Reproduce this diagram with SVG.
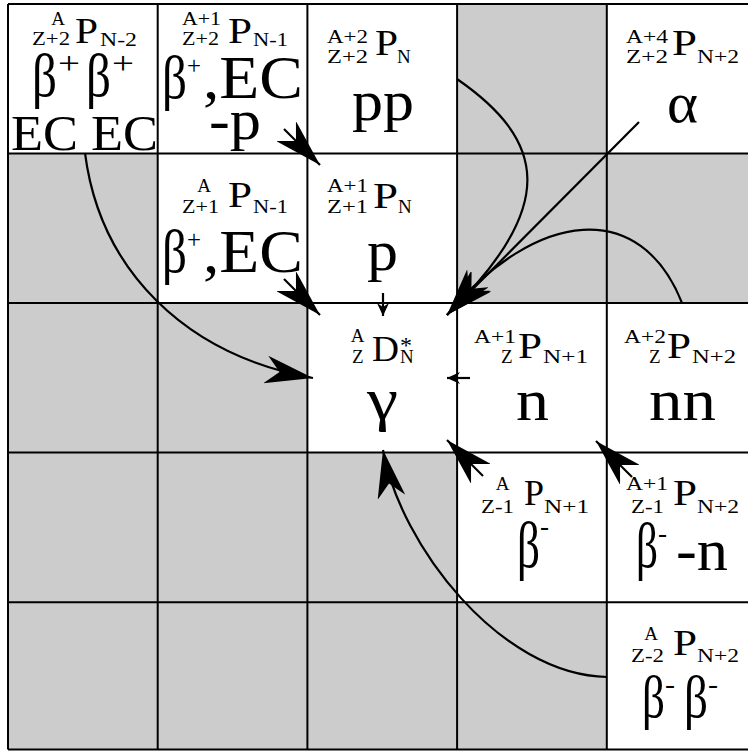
<svg xmlns="http://www.w3.org/2000/svg" width="748" height="751" viewBox="0 0 748 751" font-family="'Liberation Serif', 'Times New Roman', serif">
<style>
text { font-family: 'Liberation Serif', 'Times New Roman', serif; fill: #000; }
.s { font-size: 19px; }
.m { font-size: 35px; }
.g { fill: #cccccc; }
.grid { stroke: #000; stroke-width: 2; fill: none; }
.conn { stroke: #000; stroke-width: 2.2; fill: none; }
.big { marker-end: url(#ah); }
.sm { marker-end: url(#ahs); }
</style>
<defs>
<marker id="ah" markerUnits="userSpaceOnUse" viewBox="0 0 48 28" markerWidth="48" markerHeight="28" refX="48" refY="14" orient="auto">
<path d="M48,14 L0,0 L14,14 L0,28 Z" fill="#000"/>
</marker>
<marker id="ahs" markerUnits="userSpaceOnUse" viewBox="0 0 13 12" markerWidth="13" markerHeight="12" refX="13" refY="6" orient="auto">
<path d="M13,6 L0,0 L4,6 L0,12 Z" fill="#000"/>
</marker>
</defs>
<rect x="0" y="0" width="748" height="751" fill="#fff"/>
<g id="empty-cells">
<rect class="g" x="457.1" y="4" width="149.7" height="149.5"/>
<rect class="g" x="8" y="153.5" width="149.7" height="149.5"/>
<rect class="g" x="457.1" y="153.5" width="149.7" height="149.5"/>
<rect class="g" x="606.8" y="153.5" width="141.2" height="149.5"/>
<rect class="g" x="8" y="303" width="299.4" height="149.6"/>
<rect class="g" x="8" y="452.6" width="449.1" height="149.6"/>
<rect class="g" x="8" y="602.2" width="598.8" height="147.3"/>
</g>
<path class="grid" d="M8,4 V749.5 M157.7,4 V749.5 M307.4,4 V749.5 M457.1,4 V749.5 M606.8,4 V749.5 M8,4 H748 M8,153.5 H748 M8,303 H748 M8,452.6 H748 M8,602.2 H748 M8,749.5 H748"/>

<g id="n-z2-n2">
<text class="s" x="58" y="25" text-anchor="middle">A</text>
<text class="s" x="32" y="45" textLength="38" lengthAdjust="spacingAndGlyphs">Z+2</text>
<text class="m" x="75" y="43" textLength="23" lengthAdjust="spacingAndGlyphs">P</text>
<text class="s" x="100" y="46" textLength="37" lengthAdjust="spacingAndGlyphs">N-2</text>
<text x="32" y="96" font-size="62" textLength="25" lengthAdjust="spacingAndGlyphs">β</text>
<text x="58" y="74" font-size="32" textLength="22" lengthAdjust="spacingAndGlyphs">+</text>
<text x="86" y="96" font-size="62" textLength="25" lengthAdjust="spacingAndGlyphs">β</text>
<text x="112" y="74" font-size="32" textLength="22" lengthAdjust="spacingAndGlyphs">+</text>
<text x="11" y="150" font-size="50" textLength="147" lengthAdjust="spacingAndGlyphs">EC EC</text>
</g>

<g id="n-z2-n1">
<text class="s" x="182" y="25" textLength="39" lengthAdjust="spacingAndGlyphs">A+1</text>
<text class="s" x="182" y="45" textLength="37" lengthAdjust="spacingAndGlyphs">Z+2</text>
<text class="m" x="228" y="43" textLength="24" lengthAdjust="spacingAndGlyphs">P</text>
<text class="s" x="253" y="46" textLength="35" lengthAdjust="spacingAndGlyphs">N-1</text>
<text x="162" y="98" font-size="62" textLength="25" lengthAdjust="spacingAndGlyphs">β</text>
<text x="187" y="74" font-size="26" textLength="14" lengthAdjust="spacingAndGlyphs">+</text>
<text x="203" y="98" font-size="62" textLength="100" lengthAdjust="spacingAndGlyphs">,EC</text>
<text x="209" y="139" font-size="58" textLength="52" lengthAdjust="spacingAndGlyphs">-p</text>
</g>

<g id="n-z2-n0">
<text class="s" x="327" y="43" textLength="41" lengthAdjust="spacingAndGlyphs">A+2</text>
<text class="s" x="327" y="63" textLength="41" lengthAdjust="spacingAndGlyphs">Z+2</text>
<text class="m" x="375" y="55" textLength="23" lengthAdjust="spacingAndGlyphs">P</text>
<text class="s" x="397" y="63">N</text>
<text x="352" y="120" font-size="58" textLength="62" lengthAdjust="spacingAndGlyphs">pp</text>
</g>

<g id="n-z2-p2">
<text class="s" x="626" y="43" textLength="42" lengthAdjust="spacingAndGlyphs">A+4</text>
<text class="s" x="626" y="63" textLength="42" lengthAdjust="spacingAndGlyphs">Z+2</text>
<text class="m" x="672" y="55" textLength="25" lengthAdjust="spacingAndGlyphs">P</text>
<text class="s" x="697" y="63" textLength="42" lengthAdjust="spacingAndGlyphs">N+2</text>
<text x="667" y="122" font-size="56" textLength="31" lengthAdjust="spacingAndGlyphs">α</text>
</g>

<g id="n-z1-n1">
<text class="s" x="204" y="192" text-anchor="middle">A</text>
<text class="s" x="182" y="213" textLength="37" lengthAdjust="spacingAndGlyphs">Z+1</text>
<text class="m" x="228" y="207" textLength="24" lengthAdjust="spacingAndGlyphs">P</text>
<text class="s" x="253" y="213" textLength="35" lengthAdjust="spacingAndGlyphs">N-1</text>
<text x="162" y="272" font-size="62" textLength="25" lengthAdjust="spacingAndGlyphs">β</text>
<text x="187" y="248" font-size="26" textLength="14" lengthAdjust="spacingAndGlyphs">+</text>
<text x="203" y="272" font-size="62" textLength="100" lengthAdjust="spacingAndGlyphs">,EC</text>
</g>

<g id="n-z1-n0">
<text class="s" x="327" y="192" textLength="41" lengthAdjust="spacingAndGlyphs">A+1</text>
<text class="s" x="327" y="213" textLength="41" lengthAdjust="spacingAndGlyphs">Z+1</text>
<text class="m" x="373" y="208" textLength="25" lengthAdjust="spacingAndGlyphs">P</text>
<text class="s" x="398" y="213">N</text>
<text x="367" y="270" font-size="58" textLength="31" lengthAdjust="spacingAndGlyphs">p</text>
</g>

<g id="n-d">
<text class="s" x="357.5" y="342" text-anchor="middle">A</text>
<text class="s" x="352" y="363">Z</text>
<text class="m" x="372" y="361" textLength="27" lengthAdjust="spacingAndGlyphs">D</text>
<text x="400" y="353" font-size="24">*</text>
<text class="s" x="400" y="363">N</text>
<text x="367" y="419" font-size="60" textLength="31" lengthAdjust="spacingAndGlyphs">γ</text>
</g>

<g id="n-z0-p1">
<text class="s" x="474" y="343" textLength="42" lengthAdjust="spacingAndGlyphs">A+1</text>
<text class="s" x="501" y="363">Z</text>
<text class="m" x="518" y="358" textLength="24" lengthAdjust="spacingAndGlyphs">P</text>
<text class="s" x="543" y="363" textLength="45" lengthAdjust="spacingAndGlyphs">N+1</text>
<text x="516" y="420" font-size="60" textLength="33" lengthAdjust="spacingAndGlyphs">n</text>
</g>

<g id="n-z0-p2">
<text class="s" x="624" y="343" textLength="42" lengthAdjust="spacingAndGlyphs">A+2</text>
<text class="s" x="649" y="363">Z</text>
<text class="m" x="667" y="358" textLength="24" lengthAdjust="spacingAndGlyphs">P</text>
<text class="s" x="692" y="363" textLength="44" lengthAdjust="spacingAndGlyphs">N+2</text>
<text x="649" y="420" font-size="60" textLength="67" lengthAdjust="spacingAndGlyphs">nn</text>
</g>

<g id="n-zm1-p1">
<text class="s" x="502.5" y="490" text-anchor="middle">A</text>
<text class="s" x="481" y="513" textLength="33" lengthAdjust="spacingAndGlyphs">Z-1</text>
<text class="m" x="524" y="505" textLength="20" lengthAdjust="spacingAndGlyphs">P</text>
<text class="s" x="544" y="513" textLength="45" lengthAdjust="spacingAndGlyphs">N+1</text>
<text x="517" y="567" font-size="66" textLength="23" lengthAdjust="spacingAndGlyphs">β</text>
<text x="540" y="535" font-size="28" textLength="9" lengthAdjust="spacingAndGlyphs">-</text>
</g>

<g id="n-zm1-p2">
<text class="s" x="626" y="490" textLength="42" lengthAdjust="spacingAndGlyphs">A+1</text>
<text class="s" x="631" y="513" textLength="33" lengthAdjust="spacingAndGlyphs">Z-1</text>
<text class="m" x="673" y="505" textLength="24" lengthAdjust="spacingAndGlyphs">P</text>
<text class="s" x="697" y="513" textLength="42" lengthAdjust="spacingAndGlyphs">N+2</text>
<text x="636" y="567" font-size="64" textLength="22" lengthAdjust="spacingAndGlyphs">β</text>
<text x="658" y="542" font-size="28" textLength="9" lengthAdjust="spacingAndGlyphs">-</text>
<text x="676" y="570" font-size="60" textLength="52" lengthAdjust="spacingAndGlyphs">-n</text>
</g>

<g id="n-zm2-p2">
<text class="s" x="651" y="640" text-anchor="middle">A</text>
<text class="s" x="631" y="662" textLength="33" lengthAdjust="spacingAndGlyphs">Z-2</text>
<text class="m" x="673" y="655" textLength="24" lengthAdjust="spacingAndGlyphs">P</text>
<text class="s" x="697" y="662" textLength="42" lengthAdjust="spacingAndGlyphs">N+2</text>
<text x="642" y="717" font-size="60" textLength="23" lengthAdjust="spacingAndGlyphs">β</text>
<text x="665" y="693" font-size="28" textLength="10" lengthAdjust="spacingAndGlyphs">-</text>
<text x="684" y="717" font-size="60" textLength="24" lengthAdjust="spacingAndGlyphs">β</text>
<text x="708" y="693" font-size="28" textLength="10" lengthAdjust="spacingAndGlyphs">-</text>
</g>

<g id="connectors">
<path class="conn big" d="M85,153 C100,270 185,355 313,378"/>
<path class="conn big" d="M284,129 L320,165"/>
<path class="conn big" d="M284,279 L320,315"/>
<path class="conn sm" d="M383,293 L383,316"/>
<path class="conn sm" d="M470,378 L447,378"/>
<path class="conn big" d="M639,122 L447,315"/>
<path class="conn big" d="M457,79 C545,140 560,205 447,315"/>
<path class="conn big" d="M682,303 C641,199 537,208 447,315"/>
<path class="conn big" d="M483,476 L447,440"/>
<path class="conn big" d="M632,477 L596,441"/>
<path class="conn big" d="M607,677 C500,675 400,545 383,450"/>
</g>
</svg>
